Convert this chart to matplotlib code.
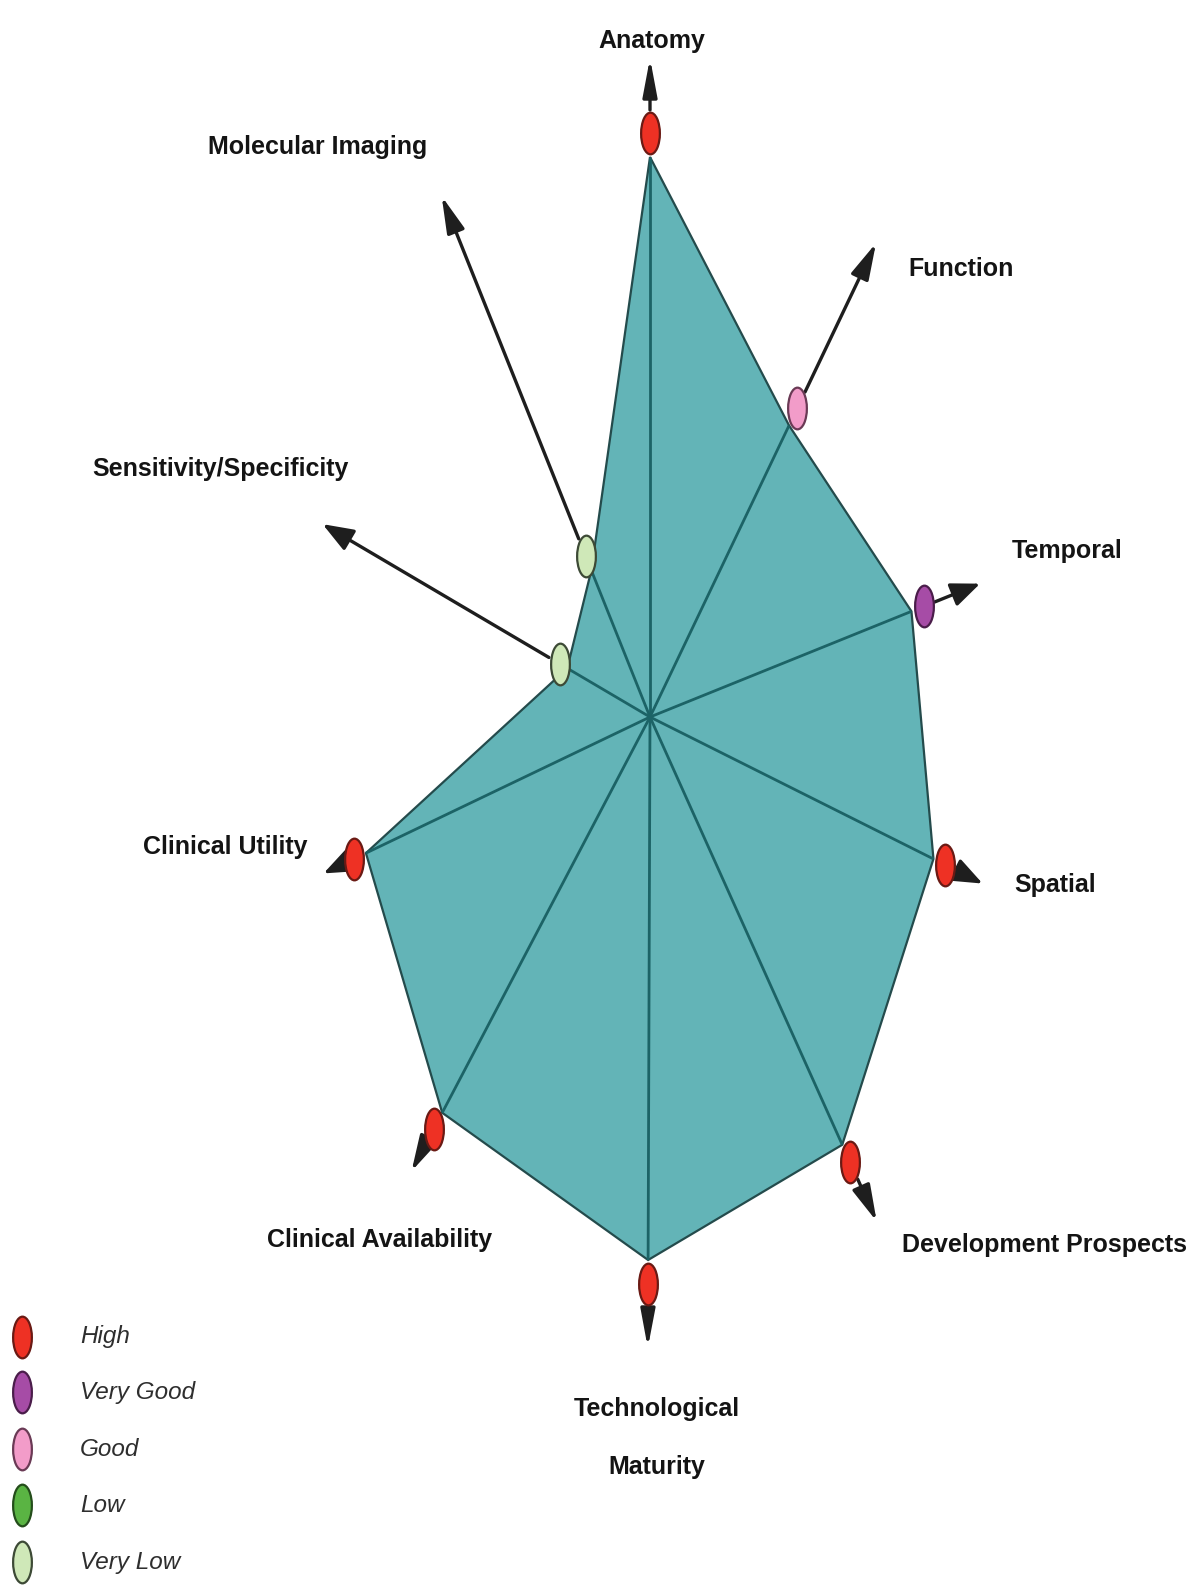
import numpy as np
import matplotlib
matplotlib.use("Agg")
import matplotlib.pyplot as plt
from matplotlib import font_manager
from matplotlib.path import Path
from matplotlib.transforms import Affine2D

# ---------------- data ----------------
categories = ["Anatomy", "Function", "Temporal", "Spatial", "Development Prospects",
              "Technological\nMaturity", "Clinical Availability", "Clinical Utility",
              "Sensitivity/Specificity", "Molecular Imaging"]
axis_angle_deg = [90, 64.5, 22.0, -26.6, -65.8, -90.2, 242.3, 205.6, 149.5, 111.8]
polygon_value = [560, 323, 282, 317, 469, 543, 447, 315, 96, 158]
arrow_extent = [659, 525, 356, 372, 553, 631, 513, 362, 380, 561]
rating = ["High", "Good", "Very Good", "High", "High", "High", "High", "High",
          "Very Low", "Very Low"]

legend_levels = ["High", "Very Good", "Good", "Low", "Very Low"]
level_face = {"High": "#ee3124", "Very Good": "#a64ca6", "Good": "#f29cc9",
              "Low": "#5ab443", "Very Low": "#cfe8b8"}
level_edge = {"High": "#6a1a14", "Very Good": "#4a1d4a", "Good": "#6a3a55",
              "Low": "#244d1b", "Very Low": "#3d4a36"}

# label anchor positions (pixel layout, centre of text)
label_pos = {"Anatomy": (652, 41), "Function": (961, 269), "Temporal": (1067, 551),
             "Spatial": (1055, 885), "Development Prospects": (1045, 1245),
             "Technological\nMaturity": (657, 1438), "Clinical Availability": (380, 1240),
             "Clinical Utility": (225, 847), "Sensitivity/Specificity": (220, 469),
             "Molecular Imaging": (318, 147)}

# ---------------- fonts ----------------
def has_font(name):
    try:
        font_manager.findfont(font_manager.FontProperties(family=name),
                              fallback_to_default=False)
        return True
    except Exception:
        return False

if has_font("Liberation Sans Narrow"):
    fam = ["Liberation Sans Narrow", "DejaVu Sans"]
    lab_size, leg_size = 22, 21.5
else:
    fam = ["Liberation Sans", "DejaVu Sans"]
    lab_size, leg_size = 18, 17.5

W, H = 1195, 1591
CX, CY = 650, 717
fig = plt.figure(figsize=(W / 100, H / 100), dpi=100)
ax = fig.add_axes([0, 0, 1, 1])
ax.set_xlim(-CX, W - CX)
ax.set_ylim(CY - H, CY)
ax.axis("off")

theta = np.deg2rad(np.array(axis_angle_deg))
r = np.array(polygon_value, dtype=float)
vx, vy = r * np.cos(theta), r * np.sin(theta)

# filled polygon
ax.fill(vx, vy, facecolor="#63b4b7", edgecolor="#244b4c", linewidth=1.6, zorder=2)
# spokes
for x, y in zip(vx, vy):
    ax.plot([0, x], [0, y], color="#1c6366", lw=2.0, zorder=3, solid_capstyle="butt")

# elliptical marker
ell = Affine2D().scale(0.45, 1.0).transform_path(Path.unit_circle())
a_px, b_px = 9.5, 21.0   # half width / half height of marker in pixels

def ell_radius(t):
    return a_px * b_px / np.sqrt((b_px * np.cos(t)) ** 2 + (a_px * np.sin(t)) ** 2)

for i, t in enumerate(theta):
    er = ell_radius(t)
    gap = 3 if r[i] > 200 else -2
    mr = r[i] + er + gap
    mx, my = mr * np.cos(t), mr * np.sin(t)
    ax.plot(mx, my, marker=ell, markersize=30, markerfacecolor=level_face[rating[i]],
            markeredgecolor=level_edge[rating[i]], markeredgewidth=1.6, zorder=5,
            linestyle="none")
    start = mr + er + 2
    tip = arrow_extent[i]
    hl = (20 + 12 * abs(np.sin(t))) * 0.72          # points
    hw = (12 + 9 * abs(np.cos(t))) * 0.72 / 2       # half width, points
    ax.annotate("", xy=(tip * np.cos(t), tip * np.sin(t)),
                xytext=(start * np.cos(t), start * np.sin(t)),
                arrowprops=dict(arrowstyle=f"-|>,head_length={hl:.2f},head_width={hw:.2f}",
                                mutation_scale=1, color="#1e1e1e", lw=2.4,
                                shrinkA=0, shrinkB=0),
                zorder=4)

# category labels
for c in categories:
    px, py = label_pos[c]
    ax.text(px - CX, CY - py, c, ha="center", va="center", family=fam,
            fontweight="bold", fontsize=lab_size, color="#141414",
            linespacing=2.75, zorder=6)

# legend
leg_y = [1337, 1392, 1449, 1505, 1562]
for lev, ly in zip(legend_levels, leg_y):
    ax.plot(22 - CX, CY - ly, marker=ell, markersize=30, markerfacecolor=level_face[lev],
            markeredgecolor=level_edge[lev], markeredgewidth=1.6, linestyle="none",
            zorder=5)
    ax.text(80 - CX, CY - ly, lev, ha="left", va="center", family=fam,
            fontstyle="italic", fontsize=leg_size, color="#2e2e2e", zorder=6)

fig.savefig("out.png", dpi=100, facecolor="white")
